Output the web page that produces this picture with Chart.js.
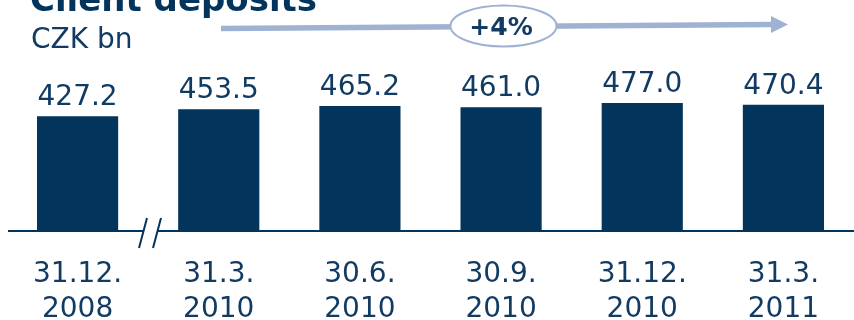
<!DOCTYPE html>
<html>
<head>
<meta charset="utf-8">
<script src="https://cdn.jsdelivr.net/npm/chart.js@4.4.1/dist/chart.umd.min.js"></script>
<style>
  html, body { margin: 0; padding: 0; background: #fff; }
  #wrap { width: 854px; height: 320px; }
</style>
</head>
<body>
<div id="wrap"><canvas id="depositsChart" width="854" height="320"></canvas></div>
<script>
// client deposits, CZK bn
var periods = ["31.12.", "31.3.", "30.6.", "30.9.", "31.12.", "31.3."];
var years = ["2008", "2010", "2010", "2010", "2010", "2011"];
var deposits = [427.2, 453.5, 465.2, 461.0, 477.0, 470.4];
var growthLabel = "+4%";

var navy = '#03345c';
var textNavy = '#123b63';
var arrowBlue = '#9fb2d2';

// labels, baseline with break mark, title and growth arrow
var decorations = {
  id: 'decorations',
  afterDatasetsDraw: function(chart) {
    var ctx = chart.ctx;
    var xScale = chart.scales.x;
    var yScale = chart.scales.y;
    var meta = chart.getDatasetMeta(0);
    var base = yScale.getPixelForValue(0);

    ctx.save();

    // value above each bar
    ctx.fillStyle = textNavy;
    ctx.font = '28px "DejaVu Sans"';
    ctx.textAlign = 'center';
    ctx.textBaseline = 'alphabetic';
    meta.data.forEach(function(bar, i) {
      ctx.fillText(deposits[i].toFixed(1), bar.x, bar.y - 11);
    });

    // two-line date under each bar
    for (var i = 0; i < periods.length; i++) {
      var x = xScale.getPixelForValue(i);
      ctx.fillText(periods[i], x, base + 51);
      ctx.fillText(years[i], x, base + 86);
    }

    // baseline, interrupted between the first two bars
    ctx.strokeStyle = navy;
    ctx.lineWidth = 2;
    ctx.beginPath();
    ctx.moveTo(8, base);
    ctx.lineTo(143, base);
    ctx.moveTo(157, base);
    ctx.lineTo(854, base);
    ctx.stroke();

    ctx.beginPath();
    ctx.moveTo(147, base - 13);
    ctx.lineTo(139, base + 17);
    ctx.moveTo(161, base - 13);
    ctx.lineTo(153, base + 17);
    ctx.stroke();

    // title and unit
    ctx.textAlign = 'left';
    ctx.fillStyle = navy;
    ctx.font = 'bold 34px "DejaVu Sans"';
    ctx.fillText('Client deposits', 30, 11);
    ctx.fillStyle = textNavy;
    ctx.font = '28px "DejaVu Sans"';
    ctx.fillText('CZK bn', 31, 48);

    // growth arrow
    ctx.strokeStyle = arrowBlue;
    ctx.lineWidth = 5.5;
    ctx.beginPath();
    ctx.moveTo(221, 28.5);
    ctx.lineTo(772, 24.5);
    ctx.stroke();
    ctx.fillStyle = arrowBlue;
    ctx.beginPath();
    ctx.moveTo(771, 16);
    ctx.lineTo(788, 24.5);
    ctx.lineTo(771, 33);
    ctx.closePath();
    ctx.fill();

    ctx.fillStyle = '#fff';
    ctx.lineWidth = 2;
    ctx.beginPath();
    ctx.ellipse(503.5, 26, 53, 20.5, 0, 0, Math.PI * 2);
    ctx.fill();
    ctx.stroke();

    ctx.fillStyle = textNavy;
    ctx.textAlign = 'center';
    ctx.font = 'bold 25px "DejaVu Sans"';
    ctx.fillText(growthLabel, 501, 35);

    ctx.restore();
  }
};

var chart = new Chart(document.getElementById('depositsChart').getContext('2d'), {
  type: 'bar',
  data: {
    labels: periods.map(function(p, i) { return [p, years[i]]; }),
    datasets: [{
      data: deposits,
      backgroundColor: navy,
      borderWidth: 0,
      categoryPercentage: 1,
      barPercentage: 0.575
    }]
  },
  options: {
    responsive: false,
    animation: false,
    layout: { padding: { left: 7, right: 0, top: 0, bottom: 89 } },
    plugins: { legend: { display: false }, tooltip: { enabled: false } },
    scales: {
      x: { display: false },
      y: { display: false, min: 0, max: 860 }
    }
  },
  plugins: [decorations]
});
</script>
</body>
</html>
